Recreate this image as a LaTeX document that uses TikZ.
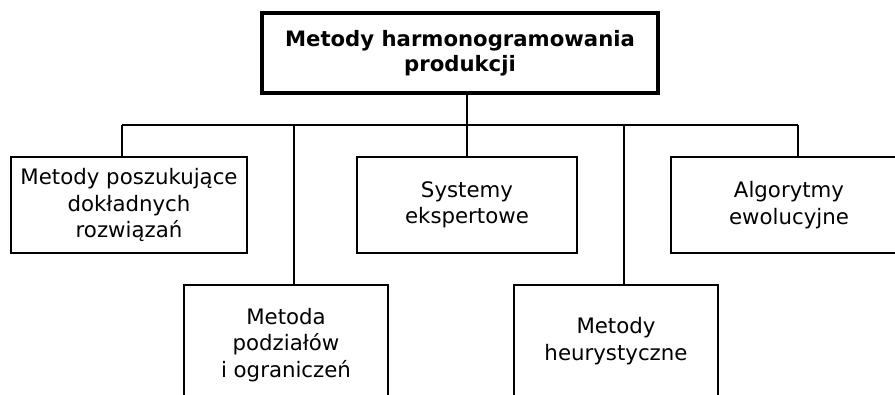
\documentclass[tikz,border=0pt]{standalone}
\usepackage{fontspec}
\setmainfont{DejaVu Sans}
\begin{document}
\begin{tikzpicture}[x=1pt,y=-1pt,
  box/.style={draw=black,line width=2pt,inner sep=0pt,align=center,
    font=\fontsize{21.3}{26.5}\selectfont},
  topbox/.style={draw=black,line width=3.8pt,inner sep=0pt,align=center,
    font=\fontsize{21.2}{24.5}\selectfont\bfseries},
  conn/.style={line width=1.9pt}]
\useasboundingbox (0,0) rectangle (895,394);
\clip (0,0) rectangle (895,394);
\node[topbox,minimum width=396pt,minimum height=80pt] (top) at (460,53) {Metody harmonogramowania\\produkcji};
\node[box,minimum width=236pt,minimum height=96pt] (b1) at (129,205) {Metody poszukujące\\dokładnych\\rozwiązań};
\node[box,minimum width=220pt,minimum height=96pt] (b3) at (467,205) {Systemy\\ekspertowe};
\node[box,minimum width=236pt,minimum height=96pt] (b5) at (789,205) {Algorytmy\\ewolucyjne};
\node[box,minimum width=204pt,minimum height=120pt] (b2) at (286,345) {Metoda\\podziałów\\i ograniczeń};
\node[box,minimum width=204pt,minimum height=112pt] (b4) at (616,341) {Metody\\heurystyczne};
\coordinate (j0) at (467,125);
\coordinate (j1) at (122,125);
\coordinate (j2) at (294,125);
\coordinate (j4) at (624,125);
\coordinate (j5) at (798,125);
\draw[conn] (j0 |- top.south) -- (j0);
\draw[conn] (j1) -- (j5);
\draw[conn] (j1) -- (j1 |- b1.north);
\draw[conn] (j2) -- (j2 |- b2.north);
\draw[conn] (j0) -- (j0 |- b3.north);
\draw[conn] (j4) -- (j4 |- b4.north);
\draw[conn] (j5) -- (j5 |- b5.north);
\end{tikzpicture}
\end{document}
